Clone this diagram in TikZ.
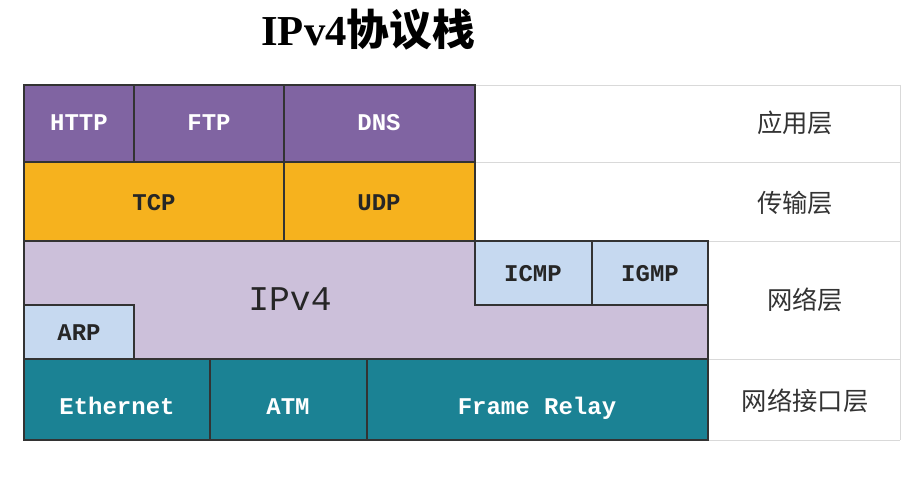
\documentclass[tikz,border=0pt]{standalone}
\usepackage{fontspec}
\setmonofont{Liberation Mono}
\newfontfamily\cjk{Noto Sans CJK SC}
\newfontfamily\ttl{Liberation Serif}
\definecolor{pur}{HTML}{8064A2}
\definecolor{org}{HTML}{F6B21E}
\definecolor{lav}{HTML}{CCC0DA}
\definecolor{lbl}{HTML}{C6D9F0}
\definecolor{teal}{HTML}{1B8294}
\begin{document}
\begin{tikzpicture}[x=0.75pt,y=-0.75pt,
  cell/.style={draw=black!80,line width=0.8pt},
  wt/.style={font=\ttfamily\bfseries\fontsize{18}{18}\selectfont,text=white,anchor=base},
  dk/.style={font=\ttfamily\bfseries\fontsize{18}{18}\selectfont,text=black!85,anchor=base},
  lay/.style={font=\cjk\fontsize{19}{19}\selectfont,text=black!80}]
\useasboundingbox[fill=white] (0,0) rectangle (922,491);
\node[font=\bfseries\fontsize{32}{32}\selectfont] (title) at (368,30) {{\ttl IPv4}{\cjk\bfseries 协议栈}};
% grid
\foreach \y in {85,162,241,359,440} \draw[black!15] (475,\y) -- (900,\y);
\draw[black!15] (900,85) -- (900,440);
% row 1
\draw[cell,fill=pur] (24,85) rectangle (134,162);
\draw[cell,fill=pur] (134,85) rectangle (284,162);
\draw[cell,fill=pur] (284,85) rectangle (475,162);
\node[wt] (http) at (79,131) {HTTP};
\node[wt] (ftp) at (209,131) {FTP};
\node[wt] (dns) at (379,131) {DNS};
% row 2
\draw[cell,fill=org] (24,162) rectangle (284,241);
\draw[cell,fill=org] (284,162) rectangle (475,241);
\node[dk] (tcp) at (154,211) {TCP};
\node[dk] (udp) at (379,211) {UDP};
% row 3
\draw[cell,fill=lav] (24,241) rectangle (708,359);
\draw[cell,fill=lbl] (475,241) rectangle (592,305);
\draw[cell,fill=lbl] (592,241) rectangle (708,305);
\draw[cell,fill=lbl] (24,305) rectangle (134,359);
\node[dk] (icmp) at (533,282) {ICMP};
\node[dk] (igmp) at (650,282) {IGMP};
\node[dk] (arp) at (79,341) {ARP};
\node[font=\ttfamily\fontsize{26}{26}\selectfont,text=black!85] (ipv4) at (290,299) {IPv4};
% row 4
\draw[cell,fill=teal] (24,359) rectangle (210,440);
\draw[cell,fill=teal] (210,359) rectangle (367,440);
\draw[cell,fill=teal] (367,359) rectangle (708,440);
\node[wt] (eth) at (117,415) {Ethernet};
\node[wt] (atm) at (288,415) {ATM};
\node[wt] (fr) at (537,415) {Frame Relay};
% layer labels
\node[lay] (l1) at (795,123) {应用层};
\node[lay] (l2) at (795,203) {传输层};
\node[lay] (l3) at (805,300) {网络层};
\node[lay] (l4) at (805,401) {网络接口层};
\end{tikzpicture}
\end{document}
